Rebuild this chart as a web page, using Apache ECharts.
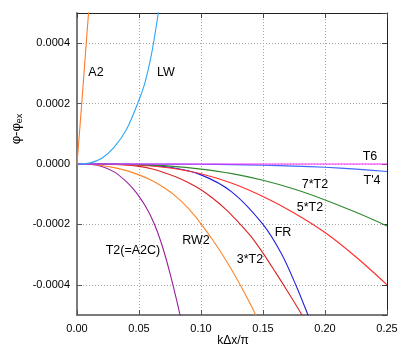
<!DOCTYPE html>
<html lang="en">
<head>
    <meta charset="UTF-8">
    <title>phase error</title>
    <script src="https://cdn.jsdelivr.net/npm/echarts@6/dist/echarts.min.js"></script>
    <style>
        html, body { margin: 0; padding: 0; background: #fff; }
        #main { width: 407px; height: 349px; }
    </style>
</head>
<body>
<div id="main"></div>
<script>
    // x-axis tick labels / y-axis tick labels
    var xTicks = [0, 0.05, 0.10, 0.15, 0.20, 0.25];
    var yTicks = [-0.0004, -0.0002, 0, 0.0002, 0.0004];

    // curves (kΔx/π, φ-φex)
    var xA2 = [0, 0.004, 0.008, 0.012];
    var yA2 = [0, 0.00021, 0.00043, 0.00064];

    var xLW = [0, 0.01, 0.02, 0.03, 0.04, 0.05, 0.055, 0.06, 0.065, 0.07];
    var yLW = [0, 3e-6, 1.9e-5, 5.6e-5, 1.15e-4, 2.12e-4, 2.72e-4, 3.62e-4, 4.85e-4, 6.2e-4];

    var xT6 = [0, 0.05, 0.10, 0.15, 0.20, 0.25];
    var yT6 = [0, 0, 0, 0, 0, 0];

    var xT4 = [0, 0.05, 0.10, 0.125, 0.15, 0.175, 0.20, 0.225, 0.25];
    var yT4 = [0, 0, -1e-6, -2e-6, -4e-6, -7e-6, -1.1e-5, -1.7e-5, -2.5e-5];

    var x7T2 = [0, 0.025, 0.05, 0.075, 0.10, 0.125, 0.15, 0.175, 0.20, 0.225, 0.25];
    var y7T2 = [0, 0, -2e-6, -7e-6, -1.7e-5, -3.2e-5, -5.4e-5, -8.3e-5, -1.19e-4, -1.6e-4, -2.05e-4];

    var x5T2 = [0, 0.025, 0.05, 0.075, 0.10, 0.125, 0.15, 0.175, 0.20, 0.225, 0.25];
    var y5T2 = [0, -1e-6, -4e-6, -1.3e-5, -3.2e-5, -6.4e-5, -1.08e-4, -1.62e-4, -2.27e-4, -3.08e-4, -4.0e-4];

    var xFR = [0, 0.025, 0.05, 0.075, 0.10, 0.125, 0.15, 0.165, 0.1764, 0.1858, 0.19];
    var yFR = [0, 0, -2e-6, -1.1e-5, -3.6e-5, -9.3e-5, -2.0e-4, -2.98e-4, -4.0e-4, -4.95e-4, -5.4e-4];

    var x3T2 = [0, 0.03, 0.04, 0.05, 0.06, 0.07, 0.08, 0.09, 0.10, 0.11, 0.12, 0.13, 0.14, 0.15, 0.16, 0.17, 0.18, 0.19];
    var y3T2 = [0, -1e-6, -3.5e-6, -8e-6, -1.6e-5, -2.8e-5, -4.3e-5, -6.2e-5, -8.5e-5, -1.15e-4, -1.5e-4, -1.92e-4, -2.38e-4, -2.95e-4, -3.58e-4, -4.23e-4, -4.9e-4, -5.6e-4];

    var xRW2 = [0, 0.01, 0.02, 0.03, 0.04, 0.05, 0.06, 0.07, 0.08, 0.09, 0.10, 0.11, 0.12, 0.13, 0.14, 0.15];
    var yRW2 = [0, -1e-6, -5e-6, -1.2e-5, -2.2e-5, -3.6e-5, -5.4e-5, -7.8e-5, -1.08e-4, -1.48e-4, -1.98e-4, -2.55e-4, -3.18e-4, -3.88e-4, -4.65e-4, -5.5e-4];

    var xT2 = [0, 0.01, 0.02, 0.03, 0.04, 0.045, 0.05, 0.055, 0.06, 0.065, 0.07, 0.075, 0.08, 0.085, 0.09];
    var yT2 = [0, -1e-6, -8e-6, -2.6e-5, -5.9e-5, -8.1e-5, -1.07e-4, -1.38e-4, -1.77e-4, -2.26e-4, -2.88e-4, -3.62e-4, -4.45e-4, -5.35e-4, -6.3e-4];

    function zip(xs, ys) {
        var out = [];
        for (var i = 0; i < xs.length; i++) out.push([xs[i], ys[i]]);
        return out;
    }

    function curve(name, xs, ys, color) {
        return {
            name: name,
            type: 'line',
            data: zip(xs, ys),
            smooth: 0.3,
            showSymbol: false,
            symbol: 'none',
            clip: true,
            lineStyle: { color: color, width: 1.1 },
            animation: false
        };
    }

    var FONT = 'Liberation Sans';

    // curve labels, pixel positions
    function label(txt, x, y) {
        return {
            type: 'text', x: x, y: y, z: 100,
            style: { text: txt, fill: '#000', font: '12.5px "' + FONT + '"', align: 'center', verticalAlign: 'middle' }
        };
    }

    var myChart = echarts.init(document.getElementById('main'), null, { renderer: 'canvas' });
    var gridLine = { show: true, lineStyle: { color: '#a8a8a8', width: 1, type: [1, 2] } };

    var option = {
        animation: false,
        backgroundColor: '#fff',
        grid: { left: 77, right: 20, top: 13, bottom: 34 },
        xAxis: [{
            type: 'value', min: 0, max: 0.25, interval: 0.05, position: 'bottom',
            axisLine: { show: true, onZero: false, lineStyle: { color: '#7a7a7a', width: 2 } },
            axisTick: { show: true, inside: true, length: 5, lineStyle: { color: '#555' } },
            axisLabel: { color: '#000', fontSize: 11, fontFamily: FONT, margin: 8,
                formatter: function (v) { return v.toFixed(2); } },
            splitLine: gridLine
        }, {
            type: 'value', min: 0, max: 0.25, interval: 0.05, position: 'top',
            axisLine: { show: true, onZero: false, lineStyle: { color: '#222', width: 1 } },
            axisTick: { show: true, inside: true, length: 5, lineStyle: { color: '#444' } },
            axisLabel: { show: false },
            splitLine: { show: false }
        }],
        yAxis: [{
            type: 'value', min: -0.0005, max: 0.0005, splitNumber: 5, position: 'left',
            axisLine: { show: true, onZero: false, lineStyle: { color: '#7a7a7a', width: 2 } },
            axisTick: { show: true, inside: true, length: 5, lineStyle: { color: '#555' } },
            axisLabel: { color: '#000', fontSize: 11, fontFamily: FONT, margin: 7,
                showMinLabel: false, showMaxLabel: false,
                formatter: function (v) { return v.toFixed(4); } },
            splitLine: gridLine
        }, {
            type: 'value', min: -0.0005, max: 0.0005, splitNumber: 5, position: 'right',
            axisLine: { show: true, onZero: false, lineStyle: { color: '#222', width: 1 } },
            axisTick: { show: true, inside: true, length: 5, lineStyle: { color: '#444' } },
            axisLabel: { show: false },
            splitLine: { show: false }
        }],
        series: [
            curve('T2(=A2C)', xT2, yT2, '#9a1f9a'),
            curve('RW2', xRW2, yRW2, '#ff8426'),
            curve('3*T2', x3T2, y3T2, '#d92323'),
            curve('FR', xFR, yFR, '#2020e0'),
            curve('5*T2', x5T2, y5T2, '#ff2b2b'),
            curve('7*T2', x7T2, y7T2, '#2e882e'),
            curve("T'4", xT4, yT4, '#3f66ff'),
            curve('T6', xT6, yT6, '#ff2cff'),
            curve('LW', xLW, yLW, '#2ea6f7'),
            curve('A2', xA2, yA2, '#ff7a2a')
        ],
        graphic: [
            label('A2', 96, 73),
            label('LW', 166, 73),
            label('T6', 370, 157),
            label("T'4", 372, 181),
            label('7*T2', 315, 185),
            label('5*T2', 310, 208),
            label('FR', 283, 233),
            label('RW2', 196, 241),
            label('3*T2', 250, 260),
            label('T2(=A2C)', 133, 251),
            {
                type: 'text', x: 233, y: 341,
                style: { text: 'kΔx/π', fill: '#000', font: '12px "' + FONT + '"', align: 'center', verticalAlign: 'middle' }
            },
            {
                type: 'text', x: 16, y: 129, rotation: Math.PI / 2,
                style: {
                    text: '{a|φ-φ}{b|ex}', fill: '#000', align: 'center', verticalAlign: 'middle',
                    rich: {
                        a: { fontSize: 13, fontFamily: FONT, fill: '#000' },
                        b: { fontSize: 9, fontFamily: FONT, fill: '#000', padding: [7, 0, 0, 0] }
                    }
                }
            }
        ]
    };
    myChart.setOption(option);
</script>
</body>
</html>
